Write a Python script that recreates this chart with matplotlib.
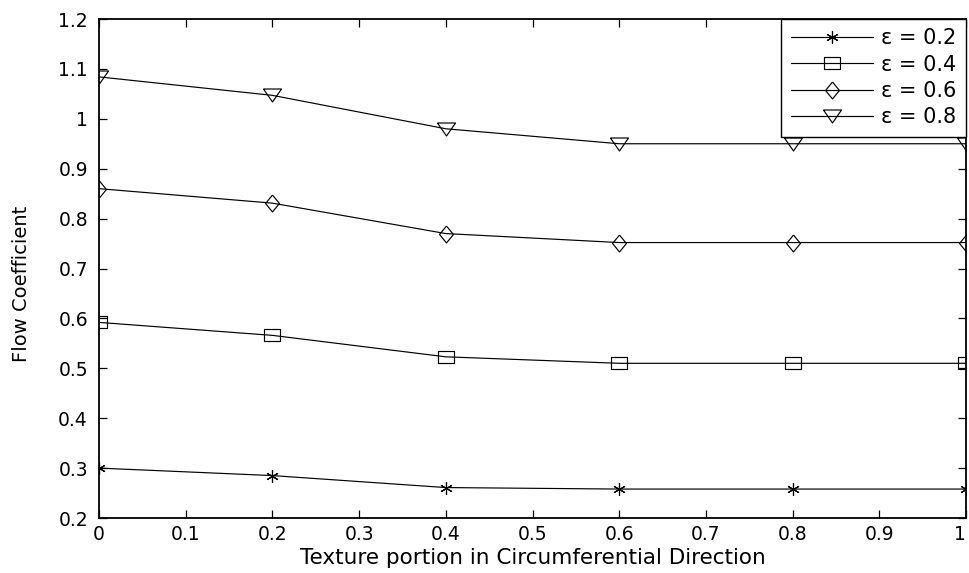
import matplotlib
matplotlib.use("Agg")
import matplotlib.pyplot as plt

# positions along the texture (fraction)
texture = [0, 0.2, 0.4, 0.6, 0.8, 1.0]

# flow coefficient for each eccentricity
flow_e02 = [0.300, 0.285, 0.261, 0.258, 0.258, 0.258]
flow_e04 = [0.592, 0.566, 0.523, 0.510, 0.510, 0.510]
flow_e06 = [0.860, 0.831, 0.770, 0.752, 0.752, 0.752]
flow_e08 = [1.084, 1.047, 0.980, 0.950, 0.950, 0.950]

labels = ['ε = 0.2', 'ε = 0.4', 'ε = 0.6', 'ε = 0.8']
xtick_labels = ['0', '0.1', '0.2', '0.3', '0.4', '0.5', '0.6', '0.7', '0.8', '0.9', '1']
ytick_labels = ['0.2', '0.3', '0.4', '0.5', '0.6', '0.7', '0.8', '0.9', '1', '1.1', '1.2']

plt.rcParams['font.family'] = ['DejaVu Sans']

# matlab-ish markers (the picture is a bit squashed, so they are wider than tall)
box = [(-1, -0.65), (1, -0.65), (1, 0.65), (-1, 0.65), (-1, -0.65)]
diamond = [(0, 1), (0.82, 0), (0, -1), (-0.82, 0), (0, 1)]
tri_down = [(-1, 0.72), (1, 0.72), (0, -0.72), (-1, 0.72)]

fig = plt.figure(figsize=(9.69, 5.73), dpi=100)
ax = fig.add_axes([99 / 969, 1 - 518 / 573, 867 / 969, 499 / 573])

kw = dict(color='black', linewidth=0.85, markerfacecolor='none',
          markeredgecolor='black', markeredgewidth=0.85)
ax.plot(texture, flow_e02, marker=(6, 2, 0), markersize=9, label=labels[0], **kw)
ax.plot(texture, flow_e04, marker=box, markersize=12.2, label=labels[1], **kw)
ax.plot(texture, flow_e06, marker=diamond, markersize=12.2, label=labels[2], **kw)
ax.plot(texture, flow_e08, marker=tri_down, markersize=13, label=labels[3], **kw)

ax.set_xlim(0, 1)
ax.set_ylim(0.2, 1.2)
ax.set_xticks([i / 10 for i in range(11)])
ax.set_xticklabels(xtick_labels)
ax.set_yticks([0.2 + i / 10 for i in range(11)])
ax.set_yticklabels(ytick_labels)
# last label sits on the figure edge, keep it inside
ax.get_xticklabels()[-1].set_horizontalalignment('right')

ax.tick_params(direction='in', top=True, right=True, length=6, width=0.9,
               labelsize=13.5)
ax.tick_params(axis='x', pad=5)
ax.tick_params(axis='y', pad=8)
for s in ax.spines.values():
    s.set_linewidth(1.3)

ax.set_xlabel('Texture portion in Circumferential Direction', fontsize=15.5, labelpad=3)
ax.set_ylabel('Flow Coefficient', fontsize=14)
ax.yaxis.set_label_coords(-0.078, 0.47)

leg = ax.legend(loc='upper right', borderaxespad=0, handlelength=3.95, fontsize=15,
                fancybox=False, framealpha=1, edgecolor='black',
                labelspacing=0.3, handletextpad=0.4, borderpad=0.45)
leg.get_frame().set_linewidth(1.0)

fig.savefig('out.png', dpi=100)
